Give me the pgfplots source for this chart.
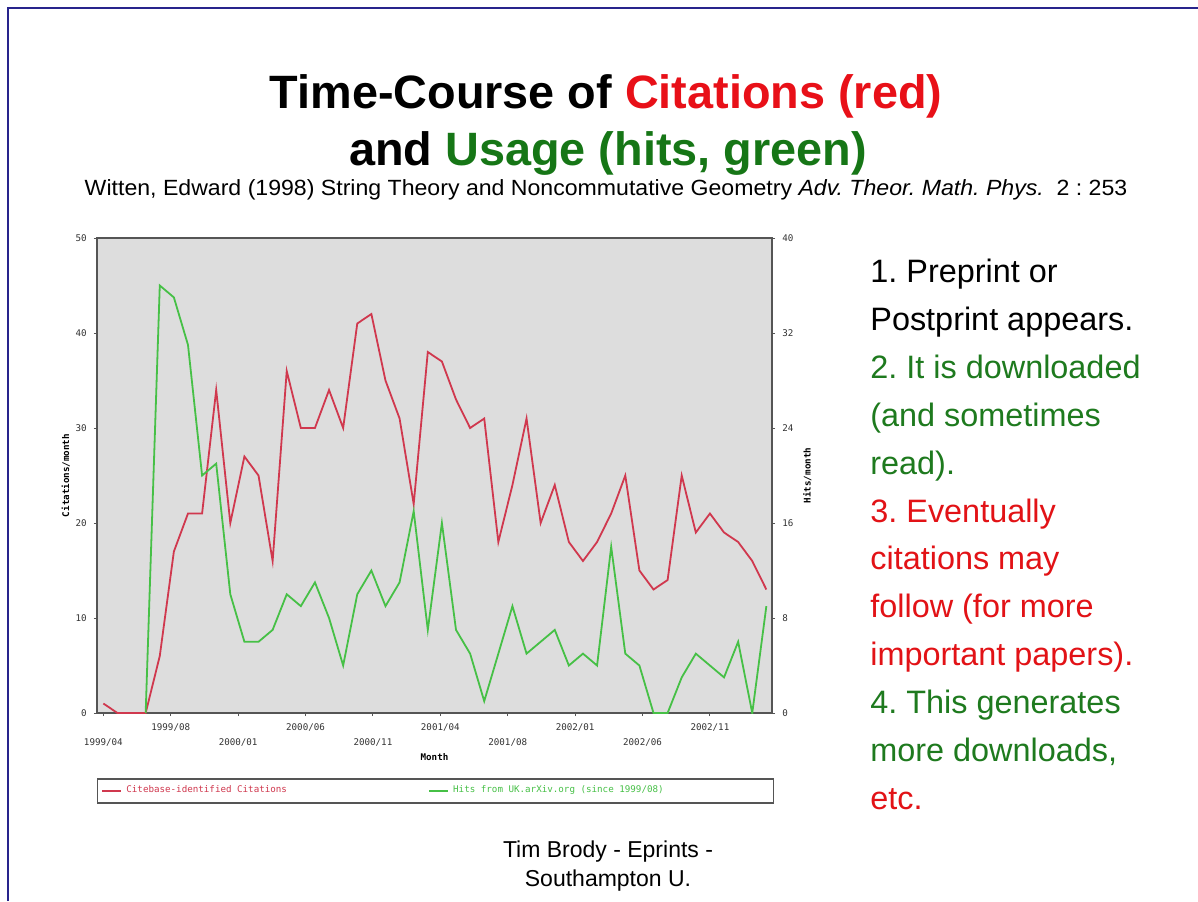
\documentclass[border=0pt]{standalone}
\usepackage{fontspec}
\setmainfont{Liberation Sans}
\newfontfamily\chartfont{DejaVu Sans Mono}
\usepackage{pgfplots}
\usepackage{pgfplotstable}
\pgfplotsset{compat=1.18}

\definecolor{titlered}{RGB}{232,16,24}
\definecolor{titlegreen}{RGB}{22,118,22}
\definecolor{txtgreen}{RGB}{30,122,30}
\definecolor{txtred}{RGB}{226,18,22}
\definecolor{linered}{RGB}{208,56,78}
\definecolor{linegreen}{RGB}{70,192,70}
\definecolor{plotbg}{RGB}{221,221,221}
\definecolor{axisgray}{RGB}{85,85,85}
\definecolor{framenavy}{RGB}{40,36,140}

\pgfplotstableread{
m c
0 1
1 0
2 0
3 0
4 6
5 17
6 21
7 21
8 34
9 20
10 27
11 25
12 16
13 36
14 30
15 30
16 34
17 30
18 41
19 42
20 35
21 31
22 22
23 38
24 37
25 33
26 30
27 31
28 18
29 24
30 31
31 20
32 24
33 18
34 16
35 18
36 21
37 25
38 15
39 13
40 14
41 25
42 19
43 21
44 19
45 18
46 16
47 13
}\citetable

\pgfplotstableread{
m h
3 0
4 36
5 35
6 31
7 20
8 21
9 10
10 6
11 6
12 7
13 10
14 9
15 11
16 8
17 4
18 10
19 12
20 9
21 11
22 17
23 7
24 16
25 7
26 5
27 1
28 5
29 9
30 5
31 6
32 7
33 4
34 5
35 4
36 14
37 5
38 4
39 0
40 0
41 3
42 5
43 4
44 3
45 6
46 0
47 9
}\hitstable

\begin{document}
\frenchspacing
\begin{tikzpicture}
\begin{scope}[x=0.5pt,y=-0.5pt]
\fill[white] (0,0) rectangle (1198,901);
\useasboundingbox (0,0) rectangle (1198,901);
\draw[framenavy, line width=1pt] (8,901) -- (8,8) -- (1198,8);
% titles
\node[anchor=base, inner sep=0, font=\fontsize{23.4pt}{28pt}\selectfont\bfseries] at (606,108)
  {Time-Course of \textcolor{titlered}{Citations (red)}};
\node[anchor=base, inner sep=0, font=\fontsize{23.4pt}{28pt}\selectfont\bfseries] at (608,165)
  {and \textcolor{titlegreen}{Usage (hits, green)}};
\node[anchor=base, inner sep=0, font=\fontsize{11pt}{13pt}\selectfont] at (606,195)
  {\scalebox{1.05}[1]{Witten, Edward (1998) String Theory and Noncommutative Geometry \textit{Adv. Theor. Math. Phys.}\ \ 2 : 253}};
% right text
\begin{scope}[every node/.style={anchor=base west, inner sep=0, font=\fontsize{16.2pt}{19pt}\selectfont}]
\node at (870,282) {1. Preprint or};
\node at (870,330) {Postprint appears.};
\node[text=txtgreen] at (870,378) {2. It is downloaded};
\node[text=txtgreen] at (870,426) {(and sometimes};
\node[text=txtgreen] at (870,474) {read).};
\node[text=txtred] at (870,522) {3. Eventually};
\node[text=txtred] at (870,569) {citations may};
\node[text=txtred] at (870,617) {follow (for more};
\node[text=txtred] at (870,665) {important papers).};
\node[text=txtgreen] at (870,713) {4. This generates};
\node[text=txtgreen] at (870,761) {more downloads,};
\node[text=txtred] at (870,809) {etc.};
\end{scope}
% bottom text
\node[anchor=base, inner sep=0, font=\fontsize{11.5pt}{14pt}\selectfont] at (608,857) {Tim Brody - Eprints -};
\node[anchor=base, inner sep=0, font=\fontsize{11.5pt}{14pt}\selectfont] at (608,886) {Southampton U.};
\end{scope}

\pgfplotsset{
  chartbase/.style={
    at={(48.5pt,-119pt)}, anchor=north west,
    scale only axis, width=337.5pt, height=237.5pt,
    xmin=-0.45, xmax=47.4,
    axis line style={axisgray, line width=0.6pt},
    tick style={axisgray, line width=0.5pt},
    major tick length=1.6pt,
    tick align=outside,
    ticklabel style={font=\chartfont\fontsize{4.6pt}{5pt}\selectfont, text=black!80},
    /pgf/number format/assume math mode=true,
    label style={font=\chartfont\bfseries\fontsize{4.6pt}{5pt}\selectfont},
  }
}

\begin{axis}[chartbase,
  ymin=0, ymax=50,
  axis background/.style={fill=plotbg},
  ytick={0,10,...,50}, ytick pos=left,
  xtick pos=bottom,
  xtick={4.7778,14.3333,23.8889,33.4444,43},
  xticklabels={1999/08,2000/06,2001/04,2002/01,2002/11},
  extra x ticks={0,9.5556,19.1111,28.6667,38.2222},
  extra x tick labels={1999/04,2000/01,2000/11,2001/08,2002/06},
  extra x tick style={xticklabel style={yshift=-7.5pt}},
  xlabel={Month}, xlabel style={at={(axis description cs:0.5,-0.0926)}, anchor=center},
  ylabel={Citations/month}, ylabel style={yshift=-4pt},
]
\addplot[linered, line width=0.9pt] table[x=m, y=c] {\citetable};
\end{axis}

\begin{axis}[chartbase,
  ymin=0, ymax=40,
  axis y line*=right, axis x line=none,
  ytick={0,8,...,40},
  ylabel={Hits/month}, ylabel style={yshift=2pt},
  legend columns=2,
  legend image code/.code={\draw[#1] (0pt,0pt) -- (9.5pt,0pt);},
  legend style={at={(0,-0.1375)}, anchor=north west, draw=axisgray, fill=white,
    line width=0.6pt, inner xsep=2pt, inner ysep=1.5pt,
    font=\chartfont\fontsize{4.6pt}{5pt}\selectfont},
]
\addlegendimage{linered, line width=0.9pt}
\addlegendentry{\makebox[149pt][l]{\textcolor{linered}{Citebase-identified Citations}}}
\addplot[linegreen, line width=0.9pt] table[x=m, y=h] {\hitstable};
\addlegendentry{\makebox[156pt][l]{\textcolor{linegreen}{Hits from UK.arXiv.org (since 1999/08)}}}
\end{axis}
\end{tikzpicture}
\end{document}
